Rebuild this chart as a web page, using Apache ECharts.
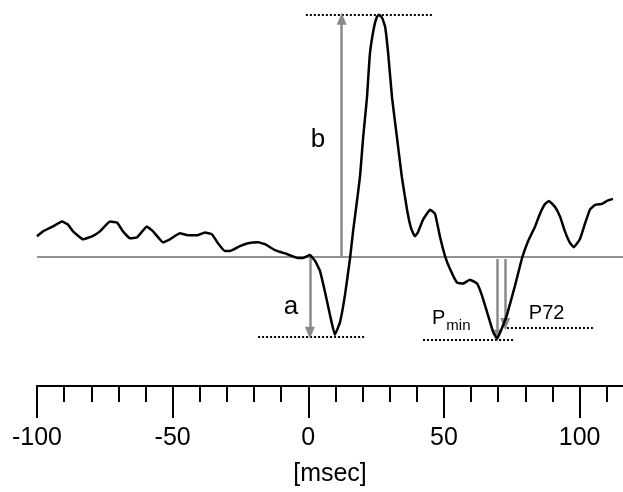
<!DOCTYPE html>
<html>
<head>
<meta charset="utf-8">
<script src="https://cdn.jsdelivr.net/npm/echarts@6/dist/echarts.min.js"></script>
<style>html,body{margin:0;padding:0;background:#fff}#c{width:623px;height:492px}</style>
</head>
<body>
<div id="c"></div>
<script>
// time in msec, amplitude in arbitrary units (baseline = 0)
var timeMs = [-100.0,-97.8,-94.1,-90.8,-88.6,-86.7,-83.0,-79.7,-76.8,-73.1,-70.5,-68.3,-65.7,-63.1,-59.5,-57.2,-53.6,-51.0,-47.3,-44.3,-41.0,-38.1,-35.5,-33.3,-30.7,-28.9,-25.2,-22.2,-18.5,-16.0,-12.3,-7.9,-3.8,-1.9,0.6,2.5,4.3,6.2,8.0,9.8,11.7,13.5,15.4,16.5,18.0,19.1,20.2,21.6,22.7,24.2,25.3,26.1,27.2,28.3,29.4,30.9,32.7,34.5,36.4,37.9,39.3,40.4,42.3,44.9,46.7,48.5,50.4,52.2,54.8,57.0,59.6,62.2,64.0,65.9,68.1,69.6,71.4,73.2,76.2,78.8,81.0,83.6,85.4,87.3,88.7,90.9,92.8,94.6,96.5,97.9,100.1,102.0,103.8,105.7,108.3,110.1,112.3];
var amplitude = [2.1,2.6,3.1,3.6,3.3,2.6,1.8,2.1,2.6,3.6,3.5,2.6,1.9,2.0,3.1,2.6,1.5,1.8,2.4,2.2,2.2,2.5,2.3,1.4,0.6,0.6,1.1,1.4,1.5,1.3,0.7,0.3,-0.1,-0.1,0.2,-0.4,-1.4,-3.6,-5.9,-7.9,-6.6,-3.9,-0.1,2.6,5.8,8.3,12.1,16.1,20.6,23.3,24.4,24.6,24.3,23.4,20.8,16.1,12.1,8.1,4.8,2.9,2.1,2.5,3.8,4.8,4.4,2.1,0.1,-1.2,-2.6,-2.7,-2.3,-2.7,-3.9,-5.6,-7.6,-8.3,-7.2,-5.9,-2.9,-0.1,1.6,3.1,4.4,5.4,5.7,5.1,4.1,2.6,1.4,1.0,1.8,3.4,4.8,5.3,5.4,5.7,5.9];
var majorTicks = [-100, -50, 0, 50, 100];
var minorTicks = [-90,-80,-70,-60,-40,-30,-20,-10,10,20,30,40,60,70,80,90,110];

// annotation values
var aTime = 0.6, aMin = -8.1;
var bTime = 12.3, bMax = 24.6;
var pminTime = 69.6, pminVal = -8.4;
var p72Time = 72.6, p72Val = -7.2;

var data = timeMs.map(function (t, i) { return [t, amplitude[i]]; });

var dotted = {color: '#000', width: 2, type: [2, 2]};
var arrowStyle = {color: '#8a8a8a', width: 2.5, type: 'solid'};
function arrow(t, from, to) {
  return [{coord: [t, from], symbol: 'none', lineStyle: arrowStyle},
          {coord: [t, to], symbol: 'triangle', symbolSize: [10, 12], lineStyle: arrowStyle}];
}
function dots(t0, t1, v) {
  return [{coord: [t0, v], symbol: 'none', lineStyle: dotted}, {coord: [t1, v], symbol: 'none'}];
}

var chart = echarts.init(document.getElementById('c'), null, {renderer: 'canvas'});
chart.setOption({
  animation: false,
  backgroundColor: '#fff',
  grid: {left: 37, right: 0, top: 0, bottom: 100, containLabel: false},
  xAxis: [{
    type: 'value', min: -100, max: 116, position: 'bottom',
    splitLine: {show: false},
    axisLine: {show: true, onZero: false, lineStyle: {color: '#000', width: 2}},
    axisTick: {show: true, customValues: majorTicks, length: 32, lineStyle: {color: '#000', width: 2}},
    axisLabel: {show: true, customValues: majorTicks, margin: 40, fontSize: 25, color: '#000', fontFamily: 'Liberation Sans'},
    name: '[msec]', nameLocation: 'middle', nameGap: 76,
    nameTextStyle: {fontSize: 25, color: '#000', fontFamily: 'Liberation Sans'}
  }, {
    type: 'value', min: -100, max: 116, position: 'bottom', offset: 0,
    splitLine: {show: false},
    axisLine: {show: false, onZero: false},
    axisTick: {show: true, customValues: minorTicks, length: 16, lineStyle: {color: '#000', width: 2}},
    axisLabel: {show: false}
  }],
  yAxis: {type: 'value', min: -13.1, max: 26.1, show: false, splitLine: {show: false}},
  series: [{
    type: 'line', xAxisIndex: 0, data: data, symbol: 'none', smooth: 0.1,
    lineStyle: {color: '#000', width: 2.5}, z: 5,
    markLine: {
      silent: true, animation: false, symbol: 'none', label: {show: false},
      data: [
        [{coord: [-100, 0], symbol: 'none', lineStyle: {color: '#6e6e6e', width: 1.5, type: 'solid'}}, {coord: [116, 0], symbol: 'none'}],
        dots(-18.5, 21.3, aMin),
        dots(-0.9, 45.6, bMax),
        dots(42.3, 76.2, pminVal),
        dots(73.2, 105.7, p72Val),
        arrow(aTime, 0, aMin + 0.4),
        arrow(bTime, 0, bMax - 0.4),
        arrow(pminTime, -0.2, pminVal + 0.4),
        arrow(p72Time, -0.2, p72Val + 0.4)
      ]
    },
    markPoint: {
      silent: true, animation: false, symbol: 'circle', symbolSize: 0,
      label: {show: true, color: '#000', fontFamily: 'Liberation Sans'},
      data: [
        {coord: [-6.4, -5.1], value: 'a', label: {formatter: 'a', fontSize: 26, position: 'inside'}},
        {coord: [3.6, 11.9], value: 'b', label: {formatter: 'b', fontSize: 26, position: 'inside'}},
        {coord: [45.6, -6.0], value: 'Pmin', label: {position: 'right', distance: 0,
          formatter: '{p|P}{s|min}',
          rich: {p: {fontSize: 20, fontFamily: 'Liberation Sans', color: '#000', verticalAlign: 'bottom', lineHeight: 24},
                 s: {fontSize: 15, fontFamily: 'Liberation Sans', color: '#000', verticalAlign: 'bottom', lineHeight: 24, padding: [0, 0, -5, 1]}}}},
        {coord: [81.3, -5.7], value: 'P72', label: {formatter: 'P72', fontSize: 20, position: 'right', distance: 0}}
      ]
    }
  }]
});
</script>
</body>
</html>
